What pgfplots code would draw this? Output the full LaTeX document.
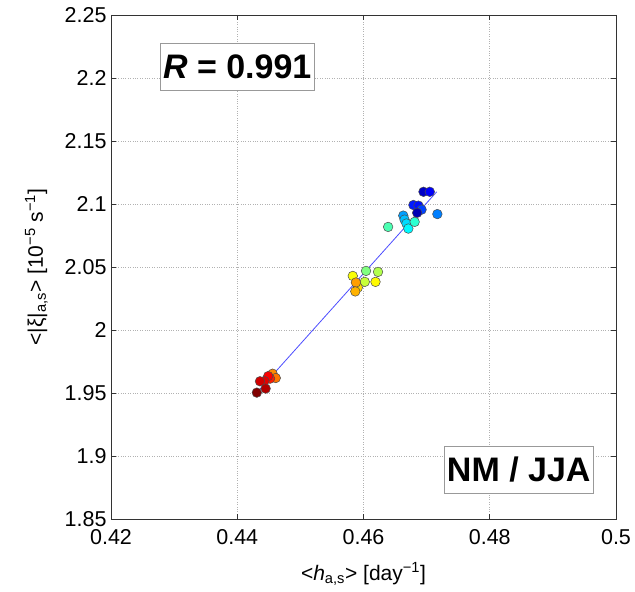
\documentclass[border=0pt]{standalone}
\usepackage{fontspec}
\setmainfont{Liberation Sans}
\usepackage{pgfplots}
\usepackage{pgfplotstable}
\pgfplotsset{compat=1.18}

\pgfplotstableread{
x y c
0.4695 2.1097 0.07
0.4705 2.1097 0.12
0.4679 2.0992 0.15
0.4687 2.0987 0.14
0.4692 2.0955 0.19
0.4685 2.0930 0.05
0.4717 2.0920 0.25
0.4663 2.0908 0.28
0.4665 2.0876 0.31
0.4668 2.0845 0.34
0.4671 2.0805 0.37
0.4681 2.0858 0.42
0.4639 2.0818 0.45
0.4604 2.0469 0.50
0.4623 2.0461 0.55
0.4602 2.0382 0.57
0.4583 2.0429 0.62
0.4619 2.0382 0.63
0.4591 2.0337 0.66
0.4588 2.0377 0.72
0.4587 2.0306 0.70
0.4456 1.9653 0.74
0.4461 1.9619 0.76
0.4452 1.9614 0.85
0.4449 1.9634 0.88
0.4443 1.9595 0.90
0.4436 1.9593 0.92
0.4445 1.9535 0.95
0.4431 1.9503 1.00
}\pts

\pgfplotstableread{
x y
0.4431 1.9503
0.4716 2.1097
}\fitline

\definecolor{fitblue}{rgb}{0.3,0.3,1}

\begin{document}
\begin{tikzpicture}
\begin{axis}[
  scale only axis,
  width=505pt, height=504pt,
  xmin=0.42, xmax=0.5, ymin=1.85, ymax=2.25,
  xtick={0.42,0.44,0.46,0.48,0.5},
  ytick={1.85,1.9,1.95,2,2.05,2.1,2.15,2.2,2.25},
  /pgf/number format/assume math mode=true,
  /pgf/number format/fixed,
  /pgf/number format/precision=2,
  tick label style={font=\fontsize{21.5}{23}\selectfont},
  label style={font=\fontsize{21}{23}\selectfont},
  tick align=inside,
  major tick length=5pt,
  tick style={black!80, line width=0.6pt},
  axis line style={black!80, line width=0.8pt},
  grid=major,
  major grid style={gray!60, dotted, line width=0.8pt},
  yticklabel style={xshift=-1pt},
  xticklabel style={yshift=-7pt},
  xlabel={\textless\textit{h}\textsubscript{a,s}\textgreater{} [day\textsuperscript{−1}]},
  ylabel={\textless|ξ|\textsubscript{a,s}\textgreater{} [10\textsuperscript{−5} s\textsuperscript{−1}]},
  xlabel style={yshift=-11pt},
  ylabel style={yshift=10pt},
  colormap/jet,
  point meta=explicit,
  point meta min=0, point meta max=1,
  clip=false,
]
\addplot[fitblue, line width=0.8pt, point meta=0] table[x=x,y=y] {\fitline};
\addplot[scatter, only marks, mark=*, mark size=4.8pt,
  scatter/use mapped color={draw=black!70, fill=mapped color},
  mark options={line width=0.5pt}]
  table[x=x,y=y,meta=c] {\pts};
\node[draw=gray!80, fill=white, line width=0.8pt, inner xsep=3pt, minimum height=47pt, font=\fontsize{34}{36}\selectfont\bfseries]
  at (axis cs:0.44,2.209) {\textit{R} = 0.991};
\node[draw=gray!80, fill=white, line width=0.8pt, inner xsep=3pt, minimum height=47pt, font=\fontsize{34}{36}\selectfont\bfseries]
  at (axis cs:0.4846,1.889) {NM / JJA};
\end{axis}
\pgfresetboundingbox
\path ([shift={(-111pt,-72pt)}]current axis.south west) rectangle ([shift={(19pt,15pt)}]current axis.north east);
\end{tikzpicture}
\end{document}
